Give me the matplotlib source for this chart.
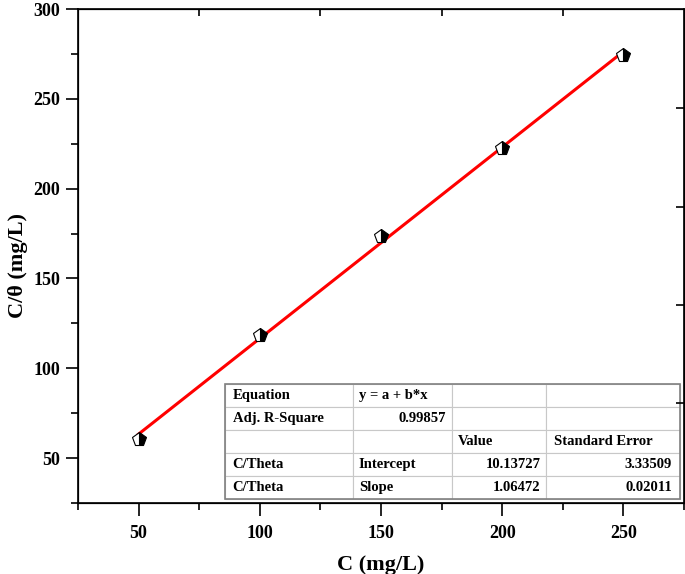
import numpy as np
import matplotlib.pyplot as plt
from matplotlib.ticker import MultipleLocator

plt.rcParams['font.family'] = ['Liberation Serif', 'DejaVu Serif']
plt.rcParams['font.weight'] = 'bold'

# datos
C = [50, 100, 150, 200, 250]
C_theta = [60.5, 118.8, 173.9, 222.8, 274.4]

# parametros del ajuste (de la tabla)
a, b = 10.13727, 1.06472
tabla = [
    ['Equation', 'y = a + b*x', '', ''],
    ['Adj. R-Square', '0.99857', '', ''],
    ['', '', 'Value', 'Standard Error'],
    ['C/Theta', 'Intercept', '10.13727', '3.33509'],
    ['C/Theta', 'Slope', '1.06472', '0.02011'],
]
alin_der = {(1, 1), (3, 2), (3, 3), (4, 2), (4, 3)}

fig = plt.figure(figsize=(6.85, 5.74), dpi=100)
ax = fig.add_axes([0.1139, 0.1237, 0.8846, 0.8606])

x_fit = np.array([C[0], C[-1]])
ax.plot(x_fit, a + b * x_fit, color='red', linewidth=2.2, zorder=2)
ax.plot(C, C_theta, linestyle='none', marker='p', markersize=10,
        fillstyle='right', markerfacecolor='black', markerfacecoloralt='white',
        markeredgecolor='black', markeredgewidth=0.8, zorder=3)

ax.set_xlim(25, 275)
ax.set_ylim(25, 300)
ax.xaxis.set_minor_locator(MultipleLocator(25))
ax.yaxis.set_minor_locator(MultipleLocator(25))
ax.set_xticks([50, 100, 150, 200, 250])
ax.set_yticks([50, 100, 150, 200, 250, 300])

ax.tick_params(which='both', direction='out', top=False, right=False,
               labelsize=13, width=1.2, pad=4)
ax.tick_params(which='major', length=9)
ax.tick_params(which='minor', length=5)
ax.tick_params(axis='x', pad=7)
for s in ax.spines.values():
    s.set_linewidth(1.2)

# ticks superior (solo menores, hacia dentro)
ax_top = ax.twiny()
ax_top.set_xlim(ax.get_xlim())
ax_top.set_xticks([75, 125, 175, 225])
ax_top.tick_params(direction='in', length=5, width=1.2, labeltop=False)
# ticks derecho hacia dentro
ax_der = ax.twinx()
ax_der.set_ylim(ax.get_ylim())
ax_der.set_yticks([80.5, 135, 190, 245])
ax_der.tick_params(direction='in', length=6, width=1.2, labelright=False)

ax.set_xlabel('C (mg/L)', fontsize=16, fontweight='bold')
ax.set_ylabel('C/θ (mg/L)', fontsize=16, fontweight='bold')
ax.xaxis.set_label_coords(0.5, -0.105)
ax.yaxis.set_label_coords(-0.082, 0.48)

anchos = [128, 99, 94, 134]
anchos = [w / sum(anchos) for w in anchos]
t = ax.table(cellText=tabla, colWidths=anchos,
             bbox=[0.2426, 0.008, 0.7508, 0.233], zorder=5)
t.auto_set_font_size(False)
t.set_fontsize(10.5)
for (r, c), cell in t.get_celld().items():
    cell.set_edgecolor('#c8c8c8')
    cell.set_linewidth(0.8)
    cell.set_facecolor('white')
    loc = 'right' if (r, c) in alin_der else 'left'
    cell.PAD = 0.06
    cell._loc = loc
    cell.get_text().set_ha(loc)
    cell.get_text().set_fontweight('bold')

# borde exterior de la tabla
ax.add_patch(plt.Rectangle((0.2426, 0.008), 0.7508, 0.233, transform=ax.transAxes,
                           fill=False, edgecolor='#808080', linewidth=1.2, zorder=6))

fig.savefig('out.png', dpi=100)
